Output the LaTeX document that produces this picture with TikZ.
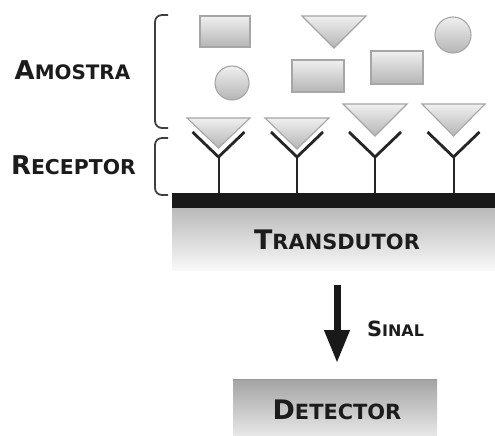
\documentclass[tikz,border=0pt]{standalone}
\usepackage{fontspec}
\setmainfont{DejaVu Sans}
\usetikzlibrary{arrows.meta}
\definecolor{txt}{HTML}{1c1c1c}
\newcommand{\mysc}[4]{\bfseries{\fontsize{#1}{#1}\selectfont #3}{\fontsize{#2}{#2}\selectfont #4}}
\tikzset{
  obj/.style={top color=gray!12, bottom color=gray!58, draw=gray!70, line width=1.1bp},
  lbl/.style={inner sep=0pt, text=txt, anchor=center},
  brace/.style={draw=black!75, line width=1.8bp, rounded corners=7bp},
  arm/.style={line width=2.8bp, draw=black!85},
  armw/.style={line width=7bp, draw=white},
  stem/.style={line width=2bp, draw=black!85},
}
\begin{document}
\begin{tikzpicture}[x=1bp,y=-1bp]
\useasboundingbox (0,0) rectangle (495,436);
% sample shapes
\shade[obj] (200,16) rectangle (250,47);
\shade[obj] (302,16) -- (366,16) -- (334,48) -- cycle;
\shade[obj] (453,35) circle (18);
\shade[obj] (232,83) circle (17);
\shade[obj] (292,60) rectangle (344,92);
\shade[obj] (371,51) rectangle (423,84);
% bound triangles
\shade[obj] (187,118) -- (250,118) -- (218.5,148) -- cycle;
\shade[obj] (265,118) -- (329,118) -- (297,149) -- cycle;
\shade[obj] (343,104) -- (407,104) -- (375,136) -- cycle;
\shade[obj] (422,104) -- (485,104) -- (453.5,136) -- cycle;
% receptors
\foreach \cx in {218.5,297,375,453.5}{
  \draw[armw] (\cx-26,132) -- (\cx,157) -- (\cx+26,132);
  \draw[arm] (\cx-26,132) -- (\cx,157) -- (\cx+26,132);
  \draw[stem] (\cx,157) -- (\cx,194);
}
% transducer
\shade[top color=gray!55, bottom color=gray!5] (172,207) rectangle (495,270);
\fill[black!90] (172,193) rectangle (495,208);
\node[lbl] (trans) at (337,240) {\mysc{27}{21}{T}{RANSDUTOR}};
% braces
\draw[brace] (168,15) -- (155,15) -- (155,128) -- (168,128);
\draw[brace] (168,138) -- (155,138) -- (155,195) -- (168,195);
% labels
\node[lbl] (amostra) at (72.5,70) {\mysc{26}{20}{A}{MOSTRA}};
\node[lbl] (receptor) at (73.5,165) {\mysc{26}{20.5}{R}{ECEPTOR}};
% arrow
\coordinate (a1) at (337,285);
\coordinate (a2) at (337,363);
\draw[line width=7bp, black!90, -{Triangle[width=24bp,length=33bp]}] (a1) -- (a2);
\node[lbl] (sinal) at (395.5,328.5) {\mysc{21}{16}{S}{INAL}};
% detector
\shade[top color=gray!72, bottom color=gray!18] (233,379) rectangle (437,436);
\draw[gray!80, line width=1bp] (233,379.5) -- (437,379.5);
\node[lbl] (det) at (337,410) {\mysc{27}{21}{D}{ETECTOR}};
\end{tikzpicture}
\end{document}
